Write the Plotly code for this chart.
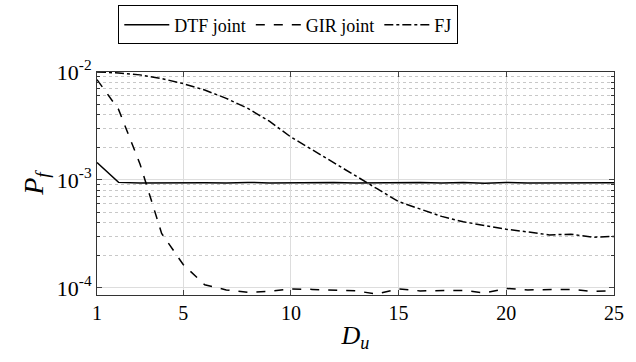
import plotly.graph_objects as go

Du = list(range(1, 26))
dtf = [1.45e-3, 9.5e-4, 9.4e-4, 9.45e-4, 9.4e-4, 9.45e-4, 9.4e-4, 9.5e-4, 9.4e-4, 9.45e-4,
       9.4e-4, 9.5e-4, 9.4e-4, 9.45e-4, 9.4e-4, 9.5e-4, 9.4e-4, 9.5e-4, 9.35e-4, 9.5e-4,
       9.4e-4, 9.45e-4, 9.4e-4, 9.5e-4, 9.45e-4]
gir = [8.5e-3, 4.5e-3, 1.4e-3, 3.2e-4, 1.65e-4, 1.07e-4, 9.6e-5, 9.1e-5, 9.3e-5, 9.8e-5,
       9.7e-5, 9.5e-5, 9.4e-5, 8.8e-5, 9.8e-5, 9.4e-5, 9.5e-5, 9.5e-5, 9.0e-5, 9.9e-5,
       9.6e-5, 9.6e-5, 9.7e-5, 9.3e-5, 9.4e-5]
fj = [1.0e-2, 9.8e-3, 9.4e-3, 8.7e-3, 7.8e-3, 6.8e-3, 5.7e-3, 4.6e-3, 3.5e-3, 2.5e-3,
      1.9e-3, 1.45e-3, 1.1e-3, 8.3e-4, 6.3e-4, 5.4e-4, 4.6e-4, 4.1e-4, 3.8e-4, 3.5e-4,
      3.3e-4, 3.1e-4, 3.15e-4, 2.95e-4, 3.0e-4]

names = ["DTF joint", "GIR joint", "FJ"]
dashes = ["solid", "dash", "dashdot"]
series = [dtf, gir, fj]

ytickvals = [1e-4, 1e-3, 1e-2]
yticktext = ["10<sup>-4</sup>", "10<sup>-3</sup>", "10<sup>-2</sup>"]
yminorvals = [m * 10.0 ** e for e in (-4, -3) for m in range(2, 10)]
xtickvals = [1, 5, 10, 15, 20, 25]

fig = go.Figure()
for n, d, s in zip(names, dashes, series):
    fig.add_trace(go.Scatter(x=Du, y=s, mode="lines", name=n,
                             line=dict(color="black", width=1.5, dash=d)))

font = "Times New Roman"
fig.update_layout(
    width=636, height=362,
    margin=dict(l=97, r=14, t=70, b=67),
    plot_bgcolor="white", paper_bgcolor="white",
    font=dict(family=font, color="black", size=18),
    showlegend=True,
    legend=dict(orientation="h", x=0.37, xanchor="center", y=0.985, yanchor="top",
                yref="container", bordercolor="black", borderwidth=1,
                font=dict(size=18, family=font, color="black"), itemwidth=45,
                tracegroupgap=0),
)
fig.update_xaxes(
    range=[1, 25], tickvals=xtickvals, ticks="inside", ticklen=5,
    showline=True, linecolor="#333", linewidth=1, mirror="ticks",
    showgrid=True, gridcolor="#dddddd", gridwidth=1, zeroline=False,
    title=dict(text="<i>D</i><sub><i>u</i></sub>", font=dict(size=26, family=font, color="black"), standoff=2),
    tickfont=dict(size=20, family=font, color="black"),
)
fig.update_yaxes(
    type="log", range=[-4.065, -2], tickvals=ytickvals, ticktext=yticktext,
    ticks="inside", ticklen=5,
    showline=True, linecolor="#333", linewidth=1, mirror="ticks",
    showgrid=True, gridcolor="#dddddd", gridwidth=1, zeroline=False,
    minor=dict(tickmode="array", tickvals=yminorvals, ticks="inside", ticklen=3,
               showgrid=True, gridcolor="#c8c8c8", griddash="dot", gridwidth=1,
               tickcolor="#333"),
    title=dict(text="<i>P</i><sub><i>f</i></sub>", font=dict(size=28, family=font, color="black"), standoff=4),
    tickfont=dict(size=22, family=font, color="black"),
)

fig.write_html("out.html")
